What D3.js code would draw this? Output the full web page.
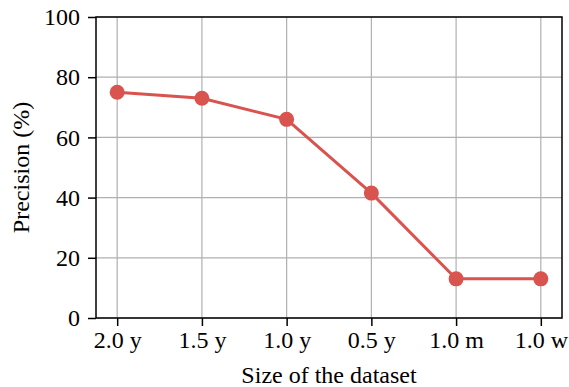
<!DOCTYPE html>
<html>
<head>
<meta charset="utf-8">
<script src="https://cdn.jsdelivr.net/npm/d3@7"></script>
<style>
  body { margin: 0; background: #fff; }
  text { font-family: "Liberation Serif", "DejaVu Serif", serif; }
</style>
</head>
<body>
<div id="chart"></div>
<script>
// data
var categories = ["2.0 y", "1.5 y", "1.0 y", "0.5 y", "1.0 m", "1.0 w"];
var precision = [75, 73, 66, 41.5, 13, 13];
var yTicks = [0, 20, 40, 60, 80, 100];

var w = 569, h = 387;
var margin = { left: 96, right: 7, top: 17, bottom: 69 };
var pw = w - margin.left - margin.right;
var ph = h - margin.top - margin.bottom;
var red = "#d9534f";
var fs = 24;

var svg = d3.select("#chart").append("svg")
    .attr("width", w)
    .attr("height", h);

var g = svg.append("g")
    .attr("transform", "translate(" + margin.left + "," + margin.top + ")");

var x = d3.scalePoint().domain(categories).range([0, pw]).padding(0.25);
var y = d3.scaleLinear().domain([0, 100]).range([ph, 0]);

// grid
g.selectAll(".vgrid").data(categories).enter().append("line")
    .attr("x1", function (d) { return x(d); })
    .attr("x2", function (d) { return x(d); })
    .attr("y1", 0).attr("y2", ph)
    .attr("stroke", "#b0b0b0").attr("stroke-width", 1.2);
g.selectAll(".hgrid").data(yTicks).enter().append("line")
    .attr("x1", 0).attr("x2", pw)
    .attr("y1", function (d) { return y(d); })
    .attr("y2", function (d) { return y(d); })
    .attr("stroke", "#b0b0b0").attr("stroke-width", 1.2);

// axes
var xAxis = g.append("g")
    .attr("transform", "translate(0," + ph + ")")
    .call(d3.axisBottom(x).tickSize(8).tickPadding(5));
var yAxis = g.append("g")
    .call(d3.axisLeft(y).tickValues(yTicks).tickSize(8).tickPadding(8));

[xAxis, yAxis].forEach(function (a) {
    a.attr("font-size", fs);
    a.select(".domain").remove();
    a.selectAll(".tick line").attr("stroke", "#000").attr("stroke-width", 1.5);
    a.selectAll(".tick text")
        .attr("font-size", fs)
        .attr("fill", "#000");
});

// frame
g.append("rect")
    .attr("x", 0).attr("y", 0)
    .attr("width", pw).attr("height", ph)
    .attr("fill", "none")
    .attr("stroke", "#000")
    .attr("stroke-width", 1.5);

// line + markers
var line = d3.line()
    .x(function (d, i) { return x(categories[i]); })
    .y(function (d) { return y(d); });

g.append("path")
    .datum(precision)
    .attr("d", line)
    .attr("fill", "none")
    .attr("stroke", red)
    .attr("stroke-width", 3);

g.selectAll(".dot").data(precision).enter().append("circle")
    .attr("cx", function (d, i) { return x(categories[i]); })
    .attr("cy", function (d) { return y(d); })
    .attr("r", 7.5)
    .attr("fill", red);

// axis labels
svg.append("text")
    .attr("x", margin.left + pw / 2)
    .attr("y", h - 4)
    .attr("text-anchor", "middle")
    .attr("font-size", fs)
    .text("Size of the dataset");

svg.append("text")
    .attr("transform", "translate(29," + (margin.top + ph / 2) + ") rotate(-90)")
    .attr("text-anchor", "middle")
    .attr("font-size", fs)
    .text("Precision (%)");
</script>
</body>
</html>
